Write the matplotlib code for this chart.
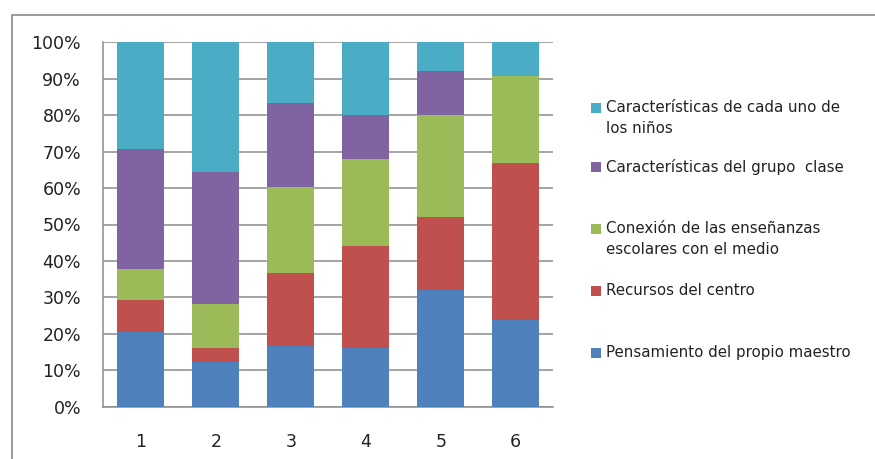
import numpy as np
import matplotlib.pyplot as plt
from matplotlib.patches import Rectangle

W, H = 875, 459

categories = ['1', '2', '3', '4', '5', '6']
series_names = [
    'Pensamiento del propio maestro',
    'Recursos del centro',
    'Conexión de las enseñanzas\nescolares con el medio',
    'Características del grupo  clase',
    'Características de cada uno de\nlos niños',
]
pensamiento = [20.6, 12.3, 16.7, 16.0, 32.0, 23.7]
recursos = [8.7, 3.9, 20.1, 28.0, 20.0, 43.1]
conexion = [8.4, 12.0, 23.4, 24.0, 28.0, 24.0]
grupo = [33.0, 36.1, 23.1, 12.0, 12.0, 0.0]
ninos = [29.3, 35.7, 16.7, 20.0, 8.0, 9.2]

colors = ['#4F81BD', '#C0504D', '#9BBB59', '#8064A2', '#4BACC6']
grid_col = '#8c8c8c'

fig = plt.figure(figsize=(W / 100, H / 100), dpi=100)
ax = fig.add_axes([103.3 / W, 1 - 406.7 / H, 450 / W, 364.4 / H])

values = np.array([pensamiento, recursos, conexion, grupo, ninos], dtype=float)
shares = values / values.sum(axis=0) * 100
x = np.arange(len(categories))
bottom = np.zeros(len(categories))
for i in range(len(series_names)):
    ax.bar(x, shares[i], bottom=bottom, width=0.63, color=colors[i],
           zorder=3, linewidth=0)
    bottom += shares[i]

ax.set_xlim(-0.5, 5.5)
ax.set_ylim(0, 100)
ax.set_yticks(np.arange(0, 101, 10))
ax.set_yticklabels([f'{v}%' for v in range(0, 101, 10)])
ax.set_xticks(x)
ax.set_xticklabels(categories)
ax.yaxis.grid(True, color=grid_col, linewidth=1.1, zorder=0)
ax.set_axisbelow(True)
ax.tick_params(axis='both', length=0, labelsize=12.5, colors='#222222')
ax.tick_params(axis='y', pad=16)
ax.tick_params(axis='x', pad=19)
for side in ['top', 'right']:
    ax.spines[side].set_visible(False)
for side in ['left', 'bottom']:
    ax.spines[side].set_color(grid_col)
    ax.spines[side].set_linewidth(1.1)

# outer chart border
fig.add_artist(Rectangle((11.5 / W, -0.1), 1.2, 1 - 15 / H + 0.1,
                         transform=fig.transFigure, fill=False,
                         edgecolor='#8a8a8a', linewidth=1.2))

# legend, top entry first
legend_rows = [(4, 108), (3, 167), (2, 229), (1, 291), (0, 353)]
for idx, ypix in legend_rows:
    fig.add_artist(Rectangle((591 / W, 1 - (ypix + 5) / H), 10 / W, 10 / H,
                             transform=fig.transFigure,
                             facecolor=colors[idx], edgecolor='none'))
    fig.text(606 / W, 1 - (ypix - 8) / H, series_names[idx], fontsize=10.8,
             va='top', ha='left', color='#222222', linespacing=1.5)

fig.savefig('out.png', dpi=100)
